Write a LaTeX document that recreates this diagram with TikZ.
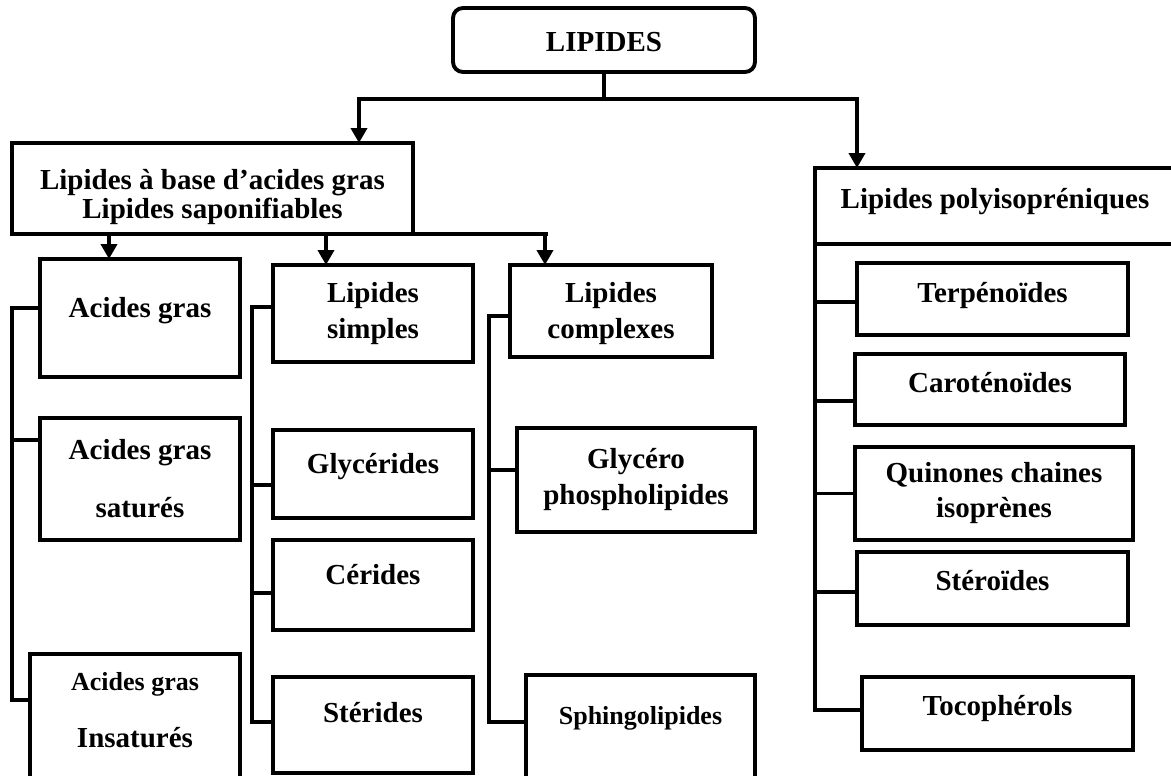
\documentclass[tikz,border=0pt]{standalone}
\usepackage{fontspec}
\setmainfont{Liberation Serif}
\usetikzlibrary{arrows.meta,calc}
\newcommand{\padabove}[1]{\rule{0pt}{#1}}
\newcommand{\padbelow}[1]{\rule[-#1]{0pt}{#1}}
\begin{document}
\begin{tikzpicture}[x=1pt,y=-1pt,
box/.style={draw,line width=3.9pt,align=center,inner sep=0pt,outer sep=0pt,font=\bfseries\fontsize{29}{27}\selectfont},
small/.style={font=\bfseries\fontsize{26}{27}\selectfont},
wire/.style={line width=3.9pt},arrow/.style={wire,-{Triangle[width=16pt,length=15pt]}}]
\useasboundingbox (0,0) rectangle (1171,776);
\clip (0,0) rectangle (1171,776);
% root and the two families
\node[box,rounded corners=10pt,minimum width=302pt,minimum height=64pt] (top) at (604,40) {\padabove{24pt}LIPIDES};
\node[box,minimum width=401pt,minimum height=91pt] (fa) at (212.5,188.5) {\padabove{38pt}Lipides à base d’acides gras\\[2pt]Lipides saponifiables};
\node[box,minimum width=360pt,minimum height=76pt] (poly) at (995,206) {Lipides polyisopréniques\padbelow{16pt}};
% acides gras
\node[box,minimum width=200pt,minimum height=118pt] (ag) at (140,318) {Acides gras\padbelow{21.6pt}};
\node[box,minimum width=200pt,minimum height=122pt] (ags) at (140,479) {Acides gras\\[31pt]saturés};
\node[box,minimum width=210pt,minimum height=136pt] (agi) at (135,722) {{\fontsize{26}{27}\selectfont Acides gras}\\[30pt]Insaturés\padbelow{25pt}};
% lipides simples
\node[box,minimum width=200pt,minimum height=97pt] (simp) at (373,313.5) {Lipides\\[9pt]simples};
\node[box,minimum width=200pt,minimum height=88pt] (glyc) at (373,474) {Glycérides\padbelow{22pt}};
\node[box,minimum width=200pt,minimum height=90pt] (cer) at (373,585) {Cérides\padbelow{22pt}};
\node[box,minimum width=200pt,minimum height=96pt] (ster) at (373,725) {Stérides\padbelow{26pt}};
% lipides complexes
\node[box,minimum width=202pt,minimum height=92pt] (comp) at (611,311) {\padabove{26pt}Lipides\\[9pt]complexes};
\node[box,minimum width=238pt,minimum height=104pt] (gp) at (636,480) {Glycéro\\[9pt]phospholipides};
\node[box,small,minimum width=229pt,minimum height=115pt] (sph) at (640.5,732.5) {Sphingolipides\padbelow{34.6pt}};
% polyisopréniques
\node[box,minimum width=271pt,minimum height=72pt] (terp) at (992.5,299) {Terpénoïdes\padbelow{14pt}};
\node[box,minimum width=270pt,minimum height=71pt] (caro) at (990,389.5) {Caroténoïdes\padbelow{15pt}};
\node[box,minimum width=278pt,minimum height=93pt] (quin) at (994,493.5) {Quinones chaines\\[8pt]isoprènes};
\node[box,minimum width=271pt,minimum height=73pt] (stero) at (992.5,588.5) {Stéroïdes\padbelow{17pt}};
\node[box,minimum width=271pt,minimum height=73pt] (toco) at (997.5,713.5) {Tocophérols\padbelow{17pt}};
% arrows from the root
\coordinate (hub) at ($(top.south)+(0,27)$);
\coordinate (u1) at ($(fa.north)+(146.5,0)$);
\coordinate (u2) at ($(poly.north)+(-138,0)$);
\draw[wire] (top.south) -- (hub);
\draw[arrow] (hub) -| (u1);
\draw[arrow] (hub) -| (u2);
% arrows under the saponifiable lipids
\coordinate (d1) at ($(fa.south)+(-103.5,0)$);
\coordinate (d2) at ($(fa.south)+(113.5,0)$);
\coordinate (d3) at ($(fa.south)+(332.5,0)$);
\draw[wire] (fa.south east) -- ($(d3)+(3,0)$);
\draw[arrow] (d1) -- (d1 |- ag.north);
\draw[arrow] (d2) -- (d2 |- simp.north);
\draw[arrow] (d3) -- (d3 |- comp.north);
% brackets
\draw[wire] ($(ag.west)+(0,-10)$) -- ++(-28,0) -- ($(agi.west)+(-18,-22)$) -- ++(18,0);
\draw[wire] ($(ags.west)+(0,-39)$) -- ++(-28,0);
\draw[wire] ($(simp.west)+(0,-6.5)$) -- ++(-21,0) -- ($(ster.west)+(-21,-3)$) -- ++(21,0);
\draw[wire] ($(glyc.west)+(0,11)$) -- ++(-21,0);
\draw[wire] ($(cer.west)+(0,8)$) -- ++(-21,0);
\draw[wire] ($(comp.west)+(0,5)$) -- ++(-21,0) -- ($(sph.west)+(-37,-10.5)$) -- ++(37,0);
\draw[wire] ($(gp.west)+(0,-10)$) -- ++(-28,0);
\draw[wire] (poly.south west) -- ($(toco.west)+(-47,-3.5)$) -- ++(47,0);
\draw[wire] ($(terp.west)+(0,3)$) -- ++(-42,0);
\draw[wire] ($(caro.west)+(0,11.5)$) -- ++(-40,0);
\draw[wire] (quin.west) -- ++(-40,0);
\draw[wire] ($(stero.west)+(0,3.5)$) -- ++(-42,0);
\end{tikzpicture}
\end{document}
